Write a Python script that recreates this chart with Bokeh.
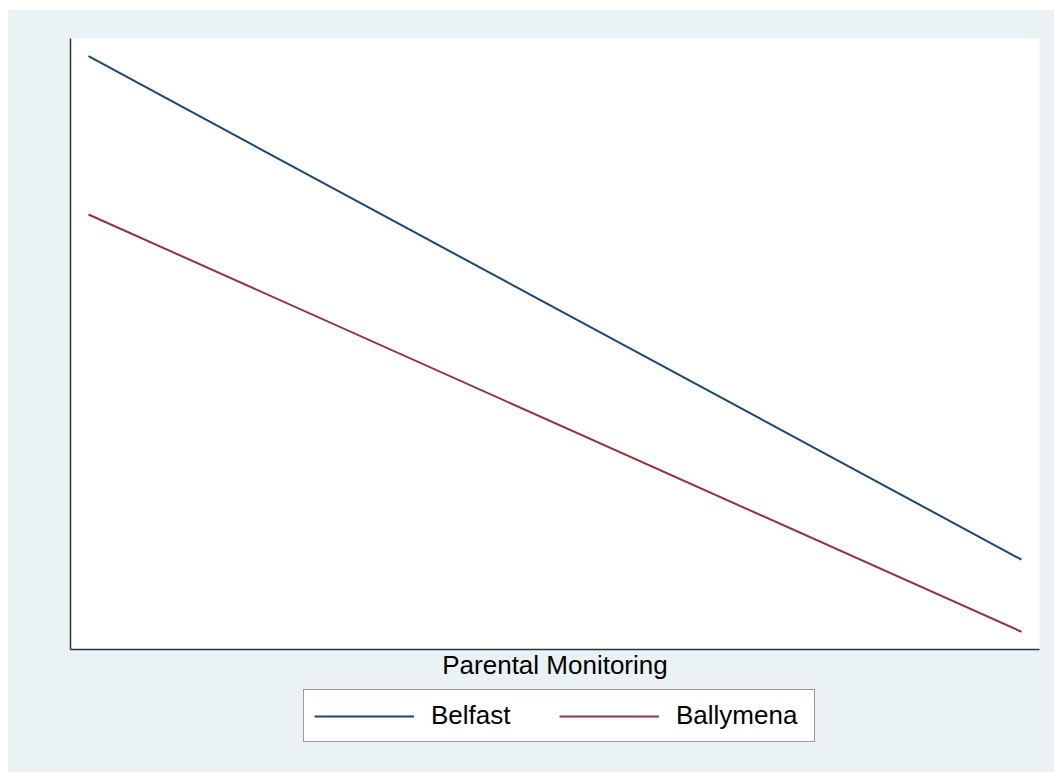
from bokeh.plotting import figure
from bokeh.layouts import column
from bokeh.models import Range1d, Legend, LegendItem, FixedTicker
from bokeh.embed import file_html
from bokeh.resources import INLINE

# Data (predicted values at low and high parental monitoring)
monitoring = [1, 5]
belfast = [9.71, 1.47]
ballymena = [7.12, 0.29]
series_names = ["Belfast", "Ballymena"]
x_label = "Parental Monitoring"

BG = "#EAF2F3"
NAVY = "#1a476f"
MAROON = "#90353b"
FONT = "Liberation Sans"

p = figure(frame_width=969, frame_height=611, output_backend="svg", toolbar_location=None,
           x_range=Range1d(0.9228, 5.0772), y_range=Range1d(0, 10),
           min_border_left=62, min_border_right=15, min_border_top=28, min_border_bottom=40)
p.background_fill_color = "white"
p.border_fill_color = BG
p.outline_line_color = None
p.grid.visible = False

r1 = p.line(monitoring, belfast, line_color=NAVY, line_width=2)
r2 = p.line(monitoring, ballymena, line_color=MAROON, line_width=2)

for ax in (p.xaxis[0], p.yaxis[0]):
    ax.ticker = FixedTicker(ticks=[])
    ax.major_tick_out = 0
    ax.major_tick_in = 0
    ax.minor_tick_out = 0
    ax.minor_tick_in = 0
    ax.axis_line_color = "#333333"
    ax.axis_line_width = 1.5

p.xaxis.axis_label = x_label
p.xaxis.axis_label_text_font = FONT
p.xaxis.axis_label_text_font_size = "26px"
p.xaxis.axis_label_text_font_style = "normal"
p.xaxis.axis_label_text_color = "black"
p.xaxis.axis_label_standoff = 0

# Legend strip below the plot (same background). Its key lines reuse the series
# data but sit outside this strip's view, so only the legend shows.
p2 = figure(frame_width=969, frame_height=83, output_backend="svg", toolbar_location=None,
            x_range=Range1d(100, 101), y_range=Range1d(100, 101),
            x_axis_location=None, y_axis_location=None,
            min_border_left=62, min_border_right=15, min_border_top=0, min_border_bottom=0)
p2.background_fill_color = BG
p2.border_fill_color = BG
p2.outline_line_color = None
p2.grid.visible = False
k1 = p2.line(monitoring, belfast, line_color=NAVY, line_width=2)
k2 = p2.line(monitoring, ballymena, line_color=MAROON, line_width=2)

legend = Legend(items=[LegendItem(label=series_names[0], renderers=[k1]),
                       LegendItem(label=series_names[1], renderers=[k2])],
                orientation="horizontal", location=(233, 30))
legend.glyph_width = 100
legend.glyph_height = 26
legend.label_height = 26
legend.label_width = 128
legend.label_standoff = 17
legend.spacing = -14
legend.padding = 10
legend.margin = 0
legend.label_text_font = FONT
legend.label_text_font_size = "26px"
legend.label_text_color = "black"
legend.border_line_color = "#333333"
legend.border_line_width = 1
legend.background_fill_color = "white"
legend.background_fill_alpha = 1
p2.add_layout(legend, "center")

layout = column(p, p2, spacing=0)
layout.margin = (10, 0, 0, 8)
layout.styles = {"background-color": BG}

open("out.html", "w").write(file_html(layout, INLINE))
